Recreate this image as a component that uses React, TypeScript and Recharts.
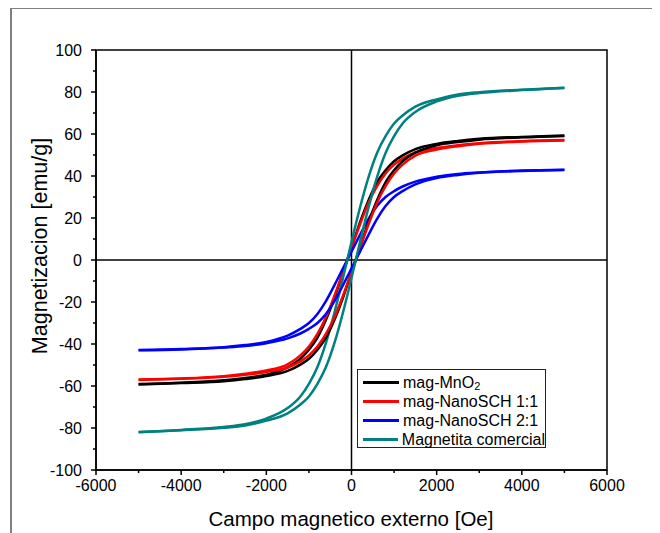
import React from 'react';
import { LineChart, Line, XAxis, YAxis, ReferenceLine, ReferenceArea } from 'recharts';

// campo aplicado (Oe), comun a todas las ramas
const fieldH = [-5000, -4000, -3000, -2500, -2000, -1500, -1200, -1000, -800, -600, -400, -200, -100, 0, 100, 200, 400, 600, 800, 1000, 1200, 1500, 2000, 2500, 3000, 4000, 5000];

// rama descendente (superior) y ascendente (inferior), emu/g
const mnO2Upper = [-59.1, -58.4, -57.3, -56.2, -54.6, -51.1, -47, -42.7, -37, -28.5, -18, -6, 0, 6, 12, 18, 28.5, 37, 42.7, 47, 49.8, 52.8, 55.3, 56.7, 57.7, 58.6, 59.3];
const mnO2Lower = [-59.3, -58.6, -57.7, -56.7, -55.3, -52.8, -49.8, -47, -42.7, -37, -28.5, -18, -12, -6, 0, 6, 18, 28.5, 37, 42.7, 47, 51.1, 54.6, 56.2, 57.3, 58.4, 59.1];

const sch11Upper = [-56.9, -56.4, -55.3, -54.2, -52.6, -49.7, -45.4, -41.2, -35.2, -27.3, -17, -5.8, 0, 5.8, 11.5, 17, 27.3, 35.2, 41.2, 45.4, 48.3, 51.2, 53.3, 54.7, 55.6, 56.6, 57.1];
const sch11Lower = [-57.1, -56.6, -55.6, -54.7, -53.3, -51.2, -48.3, -45.4, -41.2, -35.2, -27.3, -17, -11.5, -5.8, 0, 5.8, 17, 27.3, 35.2, 41.2, 45.4, 49.7, 52.6, 54.2, 55.3, 56.4, 56.9];

const sch21Upper = [-42.9, -42.4, -41.5, -40.5, -39, -36, -32.8, -30, -25.7, -19.6, -12, -4, 0, 4, 8, 12, 19.6, 25.7, 30, 32.8, 35, 37.3, 39.6, 41, 41.7, 42.6, 43];
const sch21Lower = [-43, -42.6, -41.7, -41, -39.6, -37.3, -35, -32.8, -30, -25.7, -19.6, -12, -8, -4, 0, 4, 12, 19.6, 25.7, 30, 32.8, 36, 39, 40.5, 41.5, 42.4, 42.9];

const magnetitaUpper = [-81.9, -80.9, -79.5, -78.2, -75.5, -70.5, -65, -59, -51, -39.5, -25, -8.5, 0, 8.5, 17, 25, 39.5, 51, 59, 65, 68.8, 73, 76.5, 78.8, 79.9, 81.1, 82];
const magnetitaLower = [-82, -81.1, -79.9, -78.8, -76.5, -73, -68.8, -65, -59, -51, -39.5, -25, -17, -8.5, 0, 8.5, 25, 39.5, 51, 59, 65, 70.5, 75.5, 78.2, 79.5, 80.9, 81.9];

const seriesNames = ['mag-MnO2', 'mag-NanoSCH 1:1', 'mag-NanoSCH 2:1', 'Magnetita comercial'];
const seriesColors = ['#000000', '#ff0000', '#0000ff', '#008080'];

const xTicks = [-6000, -5000, -4000, -3000, -2000, -1000, 0, 1000, 2000, 3000, 4000, 5000, 6000];
const yTicks = [-100, -90, -80, -70, -60, -50, -40, -30, -20, -10, 0, 10, 20, 30, 40, 50, 60, 70, 80, 90, 100];

const FONT = '"Liberation Sans", Arial, sans-serif';

const toRows = (vals: number[]) => fieldH.map((h, i) => ({ h, m: vals[i] }));

const series = [
  { name: seriesNames[0], color: seriesColors[0], upper: toRows(mnO2Upper), lower: toRows(mnO2Lower) },
  { name: seriesNames[1], color: seriesColors[1], upper: toRows(sch11Upper), lower: toRows(sch11Lower) },
  { name: seriesNames[2], color: seriesColors[2], upper: toRows(sch21Upper), lower: toRows(sch21Lower) },
  { name: seriesNames[3], color: seriesColors[3], upper: toRows(magnetitaUpper), lower: toRows(magnetitaLower) },
];

const XTick = (props: any) => {
  const { x, y, payload } = props;
  const major = payload.value % 2000 === 0;
  return (
    <g>
      <line x1={x} y1={y} x2={x} y2={y + (major ? 5 : 3)} stroke="#000" strokeWidth={1.5} />
      {major && (
        <text x={x} y={y + 21} textAnchor="middle" fontSize={16} fontFamily={FONT} fill="#000">
          {payload.value}
        </text>
      )}
    </g>
  );
};

const YTick = (props: any) => {
  const { x, y, payload } = props;
  const major = payload.value % 20 === 0;
  return (
    <g>
      <line x1={x} y1={y} x2={x - (major ? 5 : 3)} y2={y} stroke="#000" strokeWidth={1.5} />
      {major && (
        <text x={x - 14} y={y + 5.5} textAnchor="end" fontSize={16} fontFamily={FONT} fill="#000">
          {payload.value}
        </text>
      )}
    </g>
  );
};

const LegendBox = () => (
  <div
    style={{
      position: 'absolute',
      left: 349,
      top: 361,
      width: 189,
      height: 79,
      border: '1px solid #222',
      background: '#fff',
      fontFamily: FONT,
      fontSize: 16,
      paddingTop: 3,
      boxSizing: 'border-box',
    }}
  >
    {series.map((s) => (
      <div key={s.name} style={{ display: 'flex', alignItems: 'center', height: 19 }}>
        <div style={{ width: 36, height: 3, background: s.color, marginLeft: 5, marginRight: 4 }} />
        <span style={{ whiteSpace: 'nowrap' }}>
          {s.name === 'mag-MnO2' ? (
            <>
              mag-MnO<span style={{ fontSize: 11, position: 'relative', top: 2 }}>2</span>
            </>
          ) : (
            s.name
          )}
        </span>
      </div>
    ))}
  </div>
);

export default function App() {
  return (
    <div style={{ position: 'relative', width: 652, height: 525 }}>
      <div
        style={{
          position: 'absolute',
          left: 2,
          top: -1,
          width: 700,
          height: 600,
          borderTop: '2px solid #808080',
          borderLeft: '2px solid #808080',
        }}
      />
      <LineChart width={652} height={525} margin={{ top: 42, right: 53, left: 0, bottom: 0 }}>
        <XAxis
          type="number"
          dataKey="h"
          domain={[-6000, 6000]}
          ticks={xTicks}
          interval={0}
          height={63}
          tickSize={0}
          tickMargin={0}
          tickLine={false}
          tick={<XTick />}
          axisLine={{ stroke: '#000', strokeWidth: 1.5 }}
          allowDataOverflow
          label={() => (
            <text x={343} y={518} textAnchor="middle" fontSize={20.5} fontFamily={FONT} fill="#000">
              Campo magnetico externo [Oe]
            </text>
          )}
        />
        <YAxis
          type="number"
          domain={[-100, 100]}
          ticks={yTicks}
          interval={0}
          width={88}
          tickSize={0}
          tickMargin={0}
          tickLine={false}
          tick={<YTick />}
          axisLine={{ stroke: '#000', strokeWidth: 1.5 }}
          allowDataOverflow
          label={() => (
            <text
              x={39}
              y={238}
              transform="rotate(-90 39 238)"
              textAnchor="middle"
              fontSize={21.5}
              fontFamily={FONT}
              fill="#000"
            >
              Magnetizacion [emu/g]
            </text>
          )}
        />
        <ReferenceArea x1={-6000} x2={6000} y1={-100} y2={100} fill="none" stroke="#000" strokeWidth={1.5} fillOpacity={0} />
        <ReferenceLine x={0} stroke="#000" strokeWidth={1.5} />
        <ReferenceLine y={0} stroke="#000" strokeWidth={1.5} />
        {series.map((s) => (
          <Line
            key={s.name + '-up'}
            data={s.upper}
            dataKey="m"
            type="monotone"
            stroke={s.color}
            strokeWidth={2.5}
            dot={false}
            isAnimationActive={false}
          />
        ))}
        {series.map((s) => (
          <Line
            key={s.name + '-down'}
            data={s.lower}
            dataKey="m"
            type="monotone"
            stroke={s.color}
            strokeWidth={2.5}
            dot={false}
            isAnimationActive={false}
          />
        ))}
      </LineChart>
      <LegendBox />
    </div>
  );
}
